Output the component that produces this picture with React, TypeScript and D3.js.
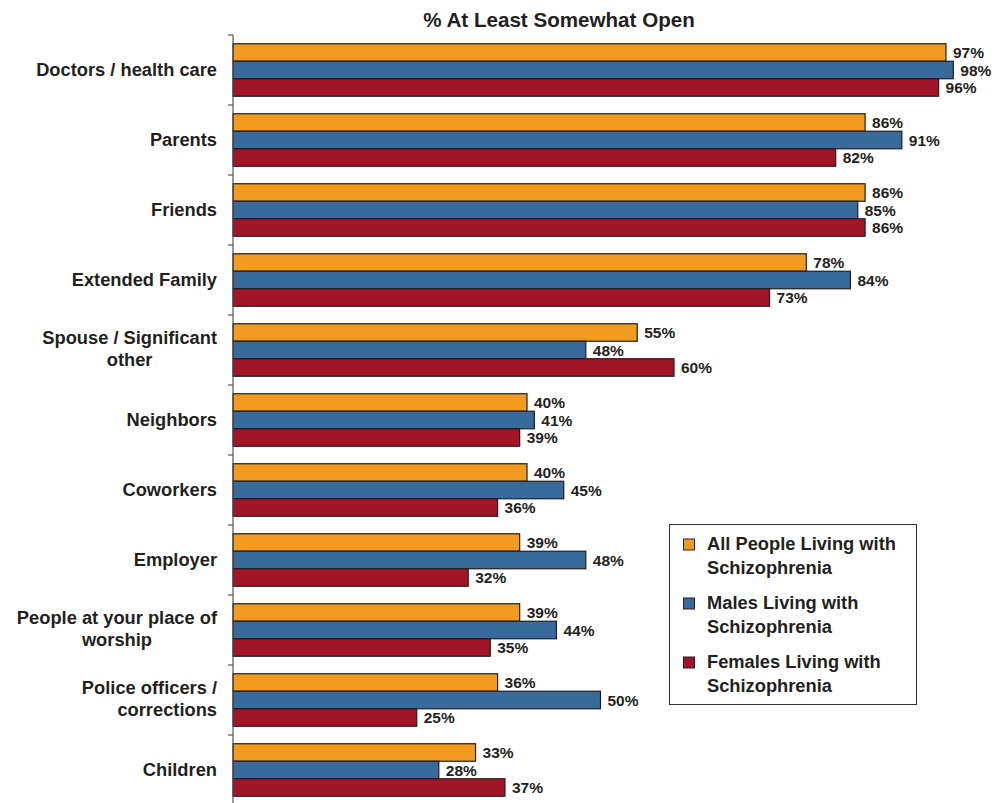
import React, { useEffect, useRef } from "react";
import * as d3 from "d3";

const categories = [
  "Doctors / health care",
  "Parents",
  "Friends",
  "Extended Family",
  "Spouse / Significant other",
  "Neighbors",
  "Coworkers",
  "Employer",
  "People at your place of worship",
  "Police officers / corrections",
  "Children",
];
const categoryLines = [
  ["Doctors / health care"],
  ["Parents"],
  ["Friends"],
  ["Extended Family"],
  ["Spouse / Significant", "other"],
  ["Neighbors"],
  ["Coworkers"],
  ["Employer"],
  ["People at your place of", "worship"],
  ["Police officers /", "corrections"],
  ["Children"],
];
const secondLineAlign = ["", "", "", "", "middle", "", "", "", "middle", "end", ""];

const seriesNames = [
  ["All People Living with", "Schizophrenia"],
  ["Males Living with", "Schizophrenia"],
  ["Females Living with", "Schizophrenia"],
];
const allPeople = [97, 86, 86, 78, 55, 40, 40, 39, 39, 36, 33];
const males = [98, 91, 85, 84, 48, 41, 45, 48, 44, 50, 28];
const females = [96, 82, 86, 73, 60, 39, 36, 32, 35, 25, 37];
const colors = ["#F39A21", "#386A9B", "#A21427"];

export default function App() {
  const ref = useRef<SVGSVGElement>(null);
  useEffect(() => {
    const svg = d3.select(ref.current);
    svg.selectAll("*").remove();
    const font = "'Liberation Sans', Arial, Helvetica, sans-serif";
    const ink = "#231F20";
    const series = [allPeople, males, females];
    const labelSize = 18.3;

    const x = d3.scaleLinear().domain([0, 100]).range([233, 968]);
    const y = d3
      .scaleBand<string>()
      .domain(categories)
      .range([35, 805])
      .paddingInner(0.25)
      .paddingOuter(0.125);
    const inner = d3.scaleBand<number>().domain([0, 1, 2]).range([0, y.bandwidth()]);

    svg
      .append("text")
      .attr("x", 559)
      .attr("y", 27)
      .attr("text-anchor", "middle")
      .attr("font-family", font)
      .attr("font-weight", "bold")
      .attr("font-size", 20.6)
      .attr("fill", ink)
      .text("% At Least Somewhat Open");

    // bars
    categories.forEach((c, i) => {
      series.forEach((s, k) => {
        const y0 = (y(c) as number) + (inner(k) as number);
        svg
          .append("rect")
          .attr("x", x(0))
          .attr("y", y0)
          .attr("width", x(s[i]) - x(0))
          .attr("height", inner.bandwidth())
          .attr("fill", colors[k])
          .attr("stroke", "#1e1e1e")
          .attr("stroke-width", 1.2);
        svg
          .append("text")
          .attr("x", x(s[i]) + 7)
          .attr("y", y0 + inner.bandwidth() / 2 + 5.5)
          .attr("font-family", font)
          .attr("font-weight", "bold")
          .attr("font-size", 15.5)
          .attr("fill", ink)
          .text(s[i] + "%");
      });
    });

    // axis
    const step = y.step();
    svg
      .append("line")
      .attr("x1", 233)
      .attr("x2", 233)
      .attr("y1", 35)
      .attr("y2", 805)
      .attr("stroke", "#555")
      .attr("stroke-width", 1.2);
    for (let i = 0; i <= categories.length; i++) {
      const ty = 35 + i * step;
      svg
        .append("line")
        .attr("x1", 228)
        .attr("x2", 233)
        .attr("y1", ty)
        .attr("y2", ty)
        .attr("stroke", "#555")
        .attr("stroke-width", 1.2);
    }

    // category labels
    categories.forEach((c, i) => {
      const lines = categoryLines[i];
      const cy = (y(c) as number) + y.bandwidth() / 2;
      const xr = 217;
      if (lines.length === 1) {
        svg
          .append("text")
          .attr("x", xr)
          .attr("y", cy + 5.5)
          .attr("text-anchor", "end")
          .attr("font-family", font)
          .attr("font-weight", "bold")
          .attr("font-size", labelSize)
          .attr("fill", ink)
          .text(lines[0]);
      } else {
        const t1 = svg
          .append("text")
          .attr("x", xr)
          .attr("y", cy - 6)
          .attr("text-anchor", "end")
          .attr("font-family", font)
          .attr("font-weight", "bold")
          .attr("font-size", labelSize)
          .attr("fill", ink)
          .text(lines[0]);
        const w = (t1.node() as SVGTextElement).getComputedTextLength();
        const align = secondLineAlign[i];
        svg
          .append("text")
          .attr("x", align === "middle" ? xr - w / 2 : xr)
          .attr("y", cy + 15.5)
          .attr("text-anchor", align)
          .attr("font-family", font)
          .attr("font-weight", "bold")
          .attr("font-size", labelSize)
          .attr("fill", ink)
          .text(lines[1]);
      }
    });

    // legend
    svg
      .append("rect")
      .attr("x", 669.5)
      .attr("y", 524.5)
      .attr("width", 247)
      .attr("height", 180)
      .attr("fill", "#fff")
      .attr("stroke", "#333")
      .attr("stroke-width", 1);
    seriesNames.forEach((names, k) => {
      const base = 550 + k * 59;
      svg
        .append("rect")
        .attr("x", 683.5)
        .attr("y", base - 11)
        .attr("width", 11)
        .attr("height", 11)
        .attr("fill", colors[k])
        .attr("stroke", "#222")
        .attr("stroke-width", 1);
      names.forEach((n, j) => {
        svg
          .append("text")
          .attr("x", 707)
          .attr("y", base + j * 23.5)
          .attr("font-family", font)
          .attr("font-weight", "bold")
          .attr("font-size", labelSize)
          .attr("fill", ink)
          .text(n);
      });
    });
  }, []);
  return (
    <svg
      ref={ref}
      width={1003}
      height={803}
      style={{ position: "absolute", left: 0, top: 0, display: "block", background: "#fff" }}
    />
  );
}
